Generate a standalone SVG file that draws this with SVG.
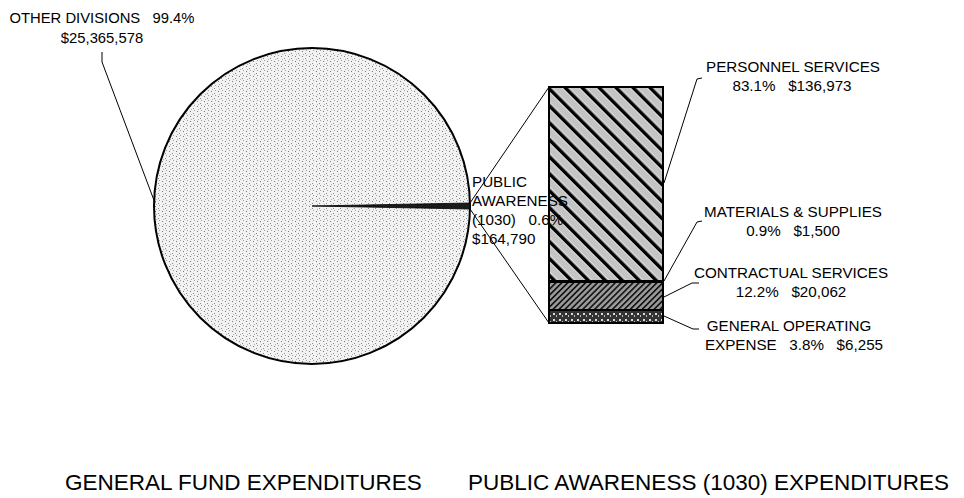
<svg xmlns="http://www.w3.org/2000/svg" width="964" height="498" viewBox="0 0 964 498" xml:space="preserve">
<defs>
<style>
text{font-family:"Liberation Sans",Arial,sans-serif;fill:#000;white-space:pre}
.lb{font-size:15.2px}
.ttl{font-size:22.5px}
.ln{fill:none;stroke:#000;stroke-width:1}
.out{stroke:#000;stroke-width:2}
</style>
<pattern id="dots" width="7" height="5" patternUnits="userSpaceOnUse">
<rect width="7" height="5" fill="#f2f2f2"/>
<rect x="1" y="1" width="1" height="1" fill="#7a7a7a"/>
<rect x="4" y="3" width="1" height="1" fill="#8a8a8a"/>
<rect x="5" y="0" width="1" height="1" fill="#a0a0a0"/>
<rect x="2" y="4" width="1" height="1" fill="#b0b0b0"/>
</pattern>
<pattern id="ps" width="12" height="12" patternUnits="userSpaceOnUse" patternTransform="rotate(-45)">
<rect width="12" height="12" fill="#fff"/>
<rect x="4.5" width="7" height="12" fill="#c4c4c4"/>
<rect x="0" width="3.5" height="12" fill="#000"/>
</pattern>
<pattern id="cs" width="4.2" height="4.2" patternUnits="userSpaceOnUse" patternTransform="rotate(45)">
<rect width="4.2" height="4.2" fill="#9a9a9a"/>
<rect x="0" width="1.6" height="4.2" fill="#111"/>
</pattern>
<pattern id="go" width="6" height="6" patternUnits="userSpaceOnUse">
<rect width="6" height="6" fill="#333"/>
<rect x="1" y="1" width="2" height="2" fill="#ddd"/>
<rect x="4" y="3" width="1" height="2" fill="#bbb"/>
</pattern>
</defs>

<g id="pie">
<circle cx="312" cy="206" r="158" fill="url(#dots)" stroke="#000" stroke-width="2"/>
<path id="slice" d="M312,206 L469.9,203 A158,158 0 0 1 469.9,209 Z" fill="#1a1a1a" stroke="#000" stroke-width="0.8"/>
</g>

<g id="bar">
<rect id="personnel" x="549" y="87" width="114" height="193" fill="url(#ps)"/>
<rect id="materials" x="549" y="280" width="114" height="3" fill="#000"/>
<rect id="contractual" x="549" y="283" width="114" height="27" fill="url(#cs)"/>
<rect id="general" x="549" y="310" width="114" height="13" fill="url(#go)"/>
<rect x="549" y="87" width="114" height="236" fill="none" class="out"/>
<line x1="549" y1="310" x2="663" y2="310" class="out"/>
</g>

<g id="connectors">
<line x1="470" y1="203" x2="549" y2="87" class="ln"/>
<line x1="470" y1="209" x2="549" y2="323" class="ln"/>
<polyline points="102,52 102,62 155,203" class="ln"/>
<polyline points="664,183 697,79 702,78" class="ln"/>
<polyline points="664,281 697,222 702,221" class="ln"/>
<polyline points="664,297 692,283 699,283" class="ln"/>
<polyline points="664,316 693,329 699,329" class="ln"/>
</g>

<g id="label-other">
<text class="lb" x="102" y="23" text-anchor="middle" style="font-size:14.8px">OTHER DIVISIONS   99.4%</text>
<text class="lb" x="102" y="43" text-anchor="middle" style="font-size:14.8px">$25,365,578</text>
</g>
<g id="label-public">
<text class="lb" x="472" y="187">PUBLIC</text>
<text class="lb" x="472" y="206">AWARENESS</text>
<text class="lb" x="472" y="225">(1030)   0.6%</text>
<text class="lb" x="472" y="244">$164,790</text>
</g>
<g id="label-personnel">
<text class="lb" x="793" y="72" text-anchor="middle">PERSONNEL SERVICES</text>
<text class="lb" x="792" y="91" text-anchor="middle">83.1%   $136,973</text>
</g>
<g id="label-materials">
<text class="lb" x="793" y="217" text-anchor="middle">MATERIALS &amp; SUPPLIES</text>
<text class="lb" x="793" y="236" text-anchor="middle">0.9%   $1,500</text>
</g>
<g id="label-contractual">
<text class="lb" x="791" y="278" text-anchor="middle">CONTRACTUAL SERVICES</text>
<text class="lb" x="791" y="297" text-anchor="middle">12.2%   $20,062</text>
</g>
<g id="label-general">
<text class="lb" x="789" y="331" text-anchor="middle">GENERAL OPERATING</text>
<text class="lb" x="794" y="350" text-anchor="middle">EXPENSE   3.8%   $6,255</text>
</g>
<g id="titles">
<text class="ttl" x="65" y="490">GENERAL FUND EXPENDITURES</text>
<text class="ttl" x="468" y="490">PUBLIC AWARENESS (1030) EXPENDITURES</text>
</g>
</svg>
